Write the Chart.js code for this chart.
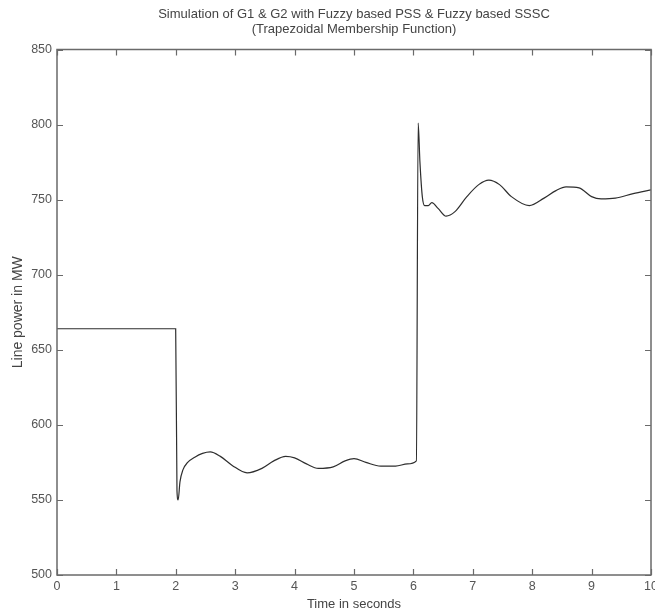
<!DOCTYPE html>
<html>
<head>
<meta charset="utf-8">
<script src="https://cdn.jsdelivr.net/npm/chart.js@4.4.1/dist/chart.umd.min.js"></script>
<style>
  html, body { margin: 0; padding: 0; background: #fff; }
  #wrap { width: 655px; height: 613px; }
</style>
</head>
<body>
<div id="wrap"><canvas id="powerChart" width="655" height="613"></canvas></div>
<script>
// Line power (MW)
const timeSec = [0, 1.998, 2.02, 2.04, 2.07, 2.12, 2.2, 2.32, 2.45, 2.58, 2.75, 2.95, 3.2, 3.45, 3.65, 3.85, 4.0, 4.2, 4.4, 4.65, 4.85, 5.0, 5.2, 5.45, 5.7, 5.9, 6.05, 6.08, 6.11, 6.15, 6.19, 6.25, 6.31, 6.42, 6.55, 6.7, 6.9, 7.1, 7.27, 7.45, 7.65, 7.95, 8.2, 8.4, 8.57, 8.79, 9.0, 9.16, 9.4, 9.7, 10];
const powerMW = [664, 664, 556, 550, 562, 570, 575, 578.5, 581, 582, 579, 573, 568, 571, 576, 579, 578, 574, 571, 572, 576, 577.5, 575, 572.5, 572.5, 574, 576, 801, 775, 752, 746, 746, 748, 744, 739, 742, 752, 760, 763, 760, 752, 746, 751, 756, 758.5, 757.8, 752, 750.5, 751, 754, 756.5];
const xTicks = [0, 1, 2, 3, 4, 5, 6, 7, 8, 9, 10];
const yTicks = [500, 550, 600, 650, 700, 750, 800, 850];

const points = timeSec.map((t, i) => ({ x: t, y: powerMW[i] }));

// matlab style box with inward ticks on all four sides
const boxTicks = {
  id: 'boxTicks',
  afterDraw(chart) {
    const { ctx, chartArea: a, scales } = chart;
    ctx.save();
    ctx.strokeStyle = '#6a6a6a';
    ctx.lineWidth = 1.5;
    ctx.strokeRect(a.left, a.top, a.right - a.left, a.bottom - a.top);
    ctx.lineWidth = 1.2;
    ctx.beginPath();
    xTicks.forEach(v => {
      const px = Math.round(scales.x.getPixelForValue(v)) + 0.5;
      ctx.moveTo(px, a.bottom); ctx.lineTo(px, a.bottom - 6);
      ctx.moveTo(px, a.top); ctx.lineTo(px, a.top + 6);
    });
    yTicks.forEach(v => {
      const py = Math.round(scales.y.getPixelForValue(v)) + 0.5;
      ctx.moveTo(a.left, py); ctx.lineTo(a.left + 6, py);
      ctx.moveTo(a.right, py); ctx.lineTo(a.right - 6, py);
    });
    ctx.stroke();
    ctx.restore();
  }
};

const tickFont = { family: 'Liberation Sans, Arial, sans-serif', size: 12.5 };
const labelFont = { family: 'Liberation Sans, Arial, sans-serif', size: 13 };

new Chart(document.getElementById('powerChart'), {
  type: 'line',
  data: {
    datasets: [{
      data: points,
      borderColor: '#2e2e2e',
      borderWidth: 1.2,
      pointRadius: 0,
      fill: false,
      cubicInterpolationMode: 'monotone'
    }]
  },
  options: {
    responsive: false,
    animation: false,
    layout: { padding: { left: 0, right: 4, top: 0, bottom: 0 } },
    plugins: {
      legend: { display: false },
      tooltip: { enabled: false },
      title: {
        display: true,
        fullSize: false,
        text: ['Simulation of G1 & G2 with Fuzzy based PSS & Fuzzy based SSSC', '(Trapezoidal Membership Function)'],
        color: '#444',
        font: { family: 'Liberation Sans, Arial, sans-serif', size: 13, weight: 'normal', lineHeight: 1.1 },
        padding: { top: 7.5, bottom: 13.4 }
      }
    },
    scales: {
      x: {
        type: 'linear',
        min: 0, max: 10,
        afterBuildTicks: s => { s.ticks = xTicks.map(v => ({ value: v })); },
        afterFit: s => { s.height = 38; s.paddingRight = 0; },
        grid: { display: false, drawTicks: false },
        border: { display: false },
        ticks: { color: '#555', font: tickFont, padding: 4, maxRotation: 0 },
        title: { display: true, text: 'Time in seconds', color: '#444', font: labelFont, padding: { top: 0, bottom: 1 } }
      },
      y: {
        min: 500, max: 850,
        afterBuildTicks: s => { s.ticks = yTicks.map(v => ({ value: v })); },
        afterFit: s => { s.width = 57; },
        grid: { display: false, drawTicks: false },
        border: { display: false },
        ticks: { color: '#555', font: tickFont, padding: 5 },
        title: { display: true, text: 'Line power in MW', color: '#444', font: { family: 'Liberation Sans, Arial, sans-serif', size: 14 }, padding: { top: 10, bottom: 0 } }
      }
    }
  },
  plugins: [boxTicks]
});
</script>
</body>
</html>
